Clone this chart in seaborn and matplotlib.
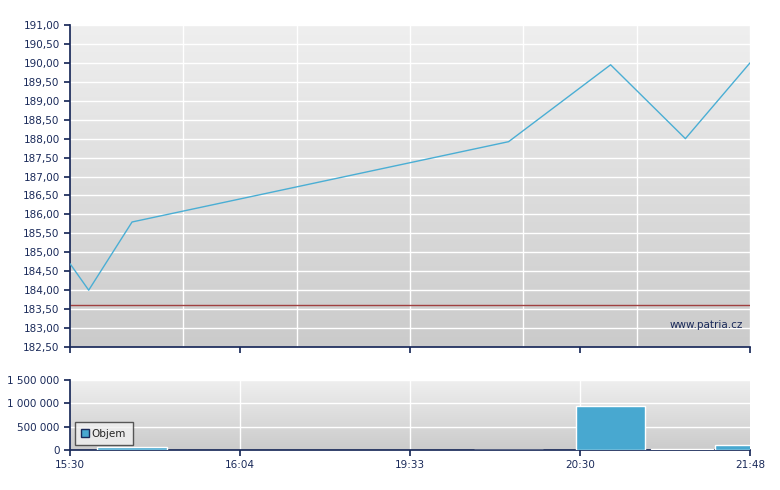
import numpy as np
import matplotlib
matplotlib.use("Agg")
import matplotlib.pyplot as plt
import seaborn as sns
from matplotlib.patches import Patch
from matplotlib.colors import LinearSegmentedColormap

sns.set_theme(style="white")
plt.rcParams['font.family'] = ['DejaVu Sans']

price_x = [0.0, 0.11, 0.365, 2.58, 3.18, 3.62, 4.0]
price_y = [184.7, 184.0, 185.8, 187.92, 189.95, 188.0, 190.0]
ref_price = 183.6
vol_x = [0.365, 2.58, 3.18, 3.6, 3.9]
vol_y = [70000, 10000, 950000, 15000, 110000]
vol_w = [0.41, 0.41, 0.41, 0.37, 0.21]
tick_labels = ["15:30", "16:04", "19:33", "20:30", "21:48"]

fmt = lambda v: f"{v:.2f}".replace(".", ",")
def fmtv(v):
    return f"{int(v):,}".replace(",", " ")

W, H = 780, 490
fig = plt.figure(figsize=(W/100, H/100), dpi=100)
ax1 = fig.add_axes([70/W, 1-347/H, 680/W, 322/H])
ax2 = fig.add_axes([70/W, 1-450/H, 680/W, 70/H])
navy = "#1a2a5a"
grad = np.linspace(0, 1, 256).reshape(-1, 1)
cmap = LinearSegmentedColormap.from_list("g", ["#cbcbcb", "#efefef"])

for ax in (ax1, ax2):
    ax.imshow(grad, aspect="auto", cmap=cmap, origin="lower",
              extent=[0, 1, 0, 1], transform=ax.transAxes, zorder=0)
    for s in ["top", "right"]:
        ax.spines[s].set_visible(False)
    for s in ["left", "bottom"]:
        ax.spines[s].set_color(navy)
    ax.tick_params(colors=navy, labelsize=7.5, length=4, direction="out", left=True, bottom=True)
    ax.set_xlim(0, 4)

ax1.set_ylim(182.5, 191)
yt = np.arange(182.5, 191.01, 0.5)
ax1.set_yticks(yt)
ax1.set_yticklabels([fmt(v) for v in yt])
for v in yt:
    ax1.axhline(v, color="white", lw=1, zorder=1)
for xv in np.linspace(0, 4, 7)[1:]:
    ax1.axvline(xv, color="white", lw=1, zorder=1)
ax1.set_xticks(np.arange(0, 4.01, 1))
ax1.set_xticklabels([])
ax1.axhline(ref_price, color="#a04040", lw=1, zorder=2)
sns.lineplot(x=price_x, y=price_y, ax=ax1, color="#4aaed4", lw=1, zorder=3)
ax1.text(0.99, 0.06, "www.patria.cz", transform=ax1.transAxes, ha="right",
         fontsize=7.5, color=navy)

ax2.set_ylim(0, 1500000)
vt = [0, 500000, 1000000, 1500000]
ax2.set_yticks(vt)
ax2.set_yticklabels([fmtv(v) for v in vt])
for v in vt[1:]:
    ax2.axhline(v, color="white", lw=1, zorder=1)
for xv in [1, 2, 3]:
    ax2.axvline(xv, color="white", lw=1, zorder=1)
ax2.bar(vol_x, vol_y, width=vol_w, color="#48a8d0", zorder=3)
ax2.set_xticks(range(5))
ax2.set_xticklabels(tick_labels)
ax2.set_xlim(0, 4)
leg = ax2.legend(handles=[Patch(facecolor="#48a8d0", edgecolor=navy, label="Objem")],
                 loc="lower left", fontsize=7.5, frameon=True, handlelength=0.7,
                 handleheight=0.7, borderpad=0.6, handletextpad=0.3, fancybox=False)
leg.get_frame().set_edgecolor("#333333")
leg.get_frame().set_facecolor("#f0f0f0")

fig.savefig("out.png", dpi=100)
